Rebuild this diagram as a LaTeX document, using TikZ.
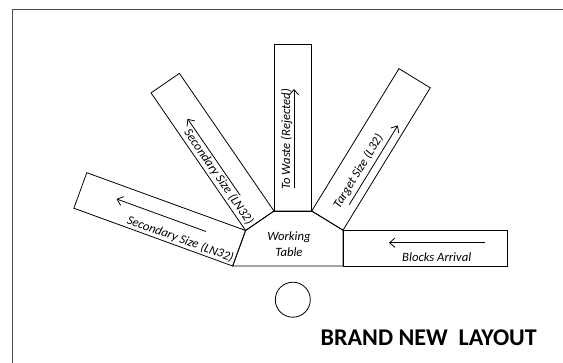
\documentclass[tikz,border=0pt]{standalone}
\usepackage{fontspec}
\setmainfont{Carlito}
\usetikzlibrary{arrows.meta}
\tikzset{
  arm/.style={draw,line width=0.6pt},
  flow/.style={-{Straight Barb[length=4pt,width=7pt]},line width=0.6pt},
  lbl/.style={font=\fontsize{9.5}{11}\selectfont\itshape,inner sep=0pt,transform shape}
}
\begin{document}
\begin{tikzpicture}[x=0.75pt,y=0.75pt]
\useasboundingbox (0,0) rectangle (563,362);
\clip (0,0) rectangle (563,362);
\draw[line width=1pt,black!70] (12.7,-10) rectangle (580,352.3);
\coordinate (A) at (232.7,96); \coordinate (F) at (343,96);
\coordinate (E) at (343,131.8); \coordinate (D) at (311.7,151);
\coordinate (C) at (274,151); \coordinate (B) at (245.6,131.5);
\draw[line width=0.6pt] (A)--(F)--(E)--(D)--(C)--(B)--cycle;
\node[lbl,align=center,font=\fontsize{9.5}{12}\selectfont\itshape] (table) at (289,117.5) {Working\\Table};
\begin{scope}[shift={(F)}]
\draw[arm] (0,0) rectangle (164,35.8);
\coordinate (blk1) at (141.7,23.3); \coordinate (blk2) at (46,23.3);
\draw[flow] (blk1)--(blk2);
\node[lbl,anchor=base] (blk) at (93.7,5) {Blocks Arrival};
\end{scope}
\begin{scope}[shift={(E)},rotate=58.5]
\draw[arm] (0,0) rectangle (167,36.7);
\coordinate (tgt1) at (25,8); \coordinate (tgt2) at (118,8);
\draw[flow] (tgt1)--(tgt2);
\node[lbl,anchor=base west] (tgt) at (16,14) {Target Size (L32)};
\end{scope}
\begin{scope}[shift={(D)},rotate=90]
\draw[arm] (0,0) rectangle (166.7,37.7);
\coordinate (wst1) at (23,17.7); \coordinate (wst2) at (122,17.7);
\draw[flow] (wst1)--(wst2);
\node[lbl,anchor=base west] (wst) at (21,21.5) {To Waste (Rejected)};
\end{scope}
\begin{scope}[shift={(C)},rotate=124.5]
\draw[arm] (0,0) rectangle (167,34.45);
\coordinate (secA1) at (32,19); \coordinate (secA2) at (125,19);
\draw[flow] (secA1)--(secA2);
\node[lbl,rotate=180,anchor=base east] (secA) at (3,30) {Secondary Size (LN32)};
\end{scope}
\begin{scope}[shift={(B)},rotate=160]
\draw[arm] (0,0) rectangle (169,37.8);
\coordinate (secB1) at (37,14.5); \coordinate (secB2) at (132,14.5);
\draw[flow] (secB1)--(secB2);
\node[lbl,rotate=180,anchor=base east] (secB) at (2,34) {Secondary Size (LN32)};
\end{scope}
\node[draw,circle,minimum size=26.25pt,inner sep=0pt,line width=0.6pt] (stand) at (292.8,62.3) {};
\node[font=\fontsize{18}{20}\selectfont\bfseries,anchor=base east,inner sep=0pt] (title) at (537,17) {BRAND NEW\ \ LAYOUT};
\end{tikzpicture}
\end{document}
